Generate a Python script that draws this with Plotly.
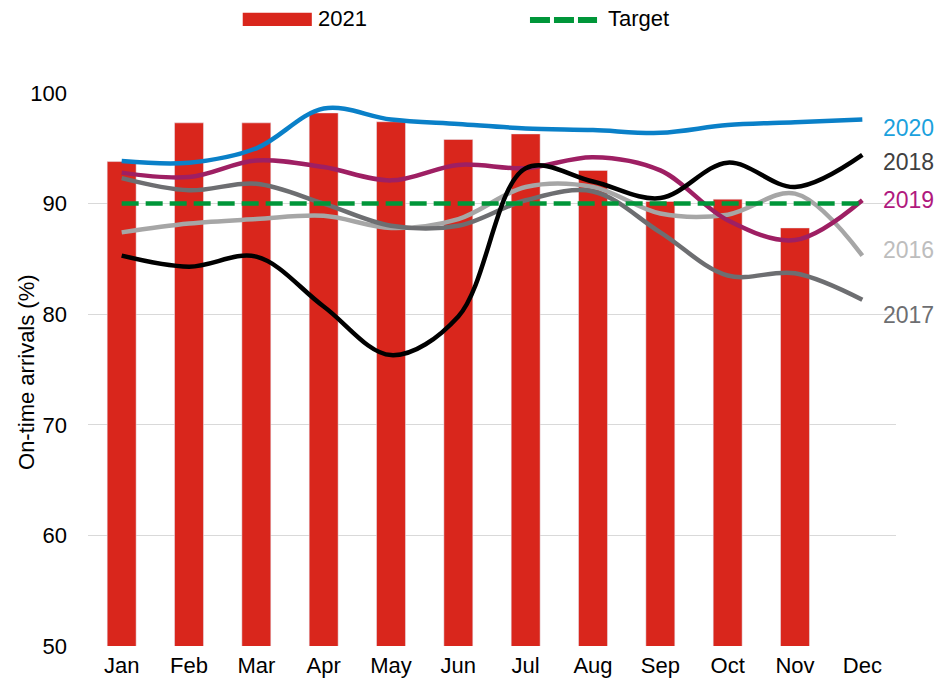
import plotly.graph_objects as go

months = ["Jan", "Feb", "Mar", "Apr", "May", "Jun", "Jul", "Aug", "Sep", "Oct", "Nov", "Dec"]
y2021 = [93.8, 97.3, 97.3, 98.2, 97.4, 95.8, 96.3, 93.0, 90.2, 90.4, 87.8, None]
y2020 = [93.85, 93.7, 95.0, 98.6, 97.6, 97.2, 96.8, 96.65, 96.4, 97.1, 97.35, 97.6]
y2019 = [92.8, 92.4, 93.9, 93.3, 92.1, 93.5, 93.2, 94.2, 93.0, 88.5, 86.7, 90.3]
y2018 = [85.3, 84.3, 85.2, 80.7, 76.3, 79.8, 93.2, 92.0, 90.5, 93.7, 91.5, 94.4]
y2017 = [92.3, 91.2, 91.8, 90.0, 88.0, 88.0, 90.3, 91.1, 87.4, 83.5, 83.7, 81.3]
y2016 = [87.4, 88.2, 88.6, 88.9, 87.8, 88.6, 91.5, 91.5, 89.1, 89.0, 90.9, 85.3]
target = [90] * 12

label_years = ["2020", "2018", "2019", "2016", "2017"]
label_y = [96.8, 93.75, 90.3, 85.8, 79.9]
label_colors = ["#1BA1DD", "#404040", "#B0197E", "#BDBDBD", "#6D6E71"]

FONT = "Liberation Sans, Arial, sans-serif"

fig = go.Figure()
fig.add_trace(go.Bar(x=months, y=y2021, marker_color="#D9261C", width=0.43,
                     showlegend=False, name="2021"))

lines = [
    (y2016, "#A6A6A6", "2016"),
    (y2017, "#6D6E71", "2017"),
    (y2019, "#9E1F63", "2019"),
    (y2020, "#0A80C8", "2020"),
    (y2018, "#000000", "2018"),
]
for ys, col, nm in lines:
    fig.add_trace(go.Scatter(x=months, y=ys, mode="lines", name=nm,
                             line=dict(color=col, width=4.5, shape="spline", smoothing=1.0),
                             showlegend=False))

fig.add_trace(go.Scatter(x=months, y=target, mode="lines", name="Target",
                         line=dict(color="#009639", width=4.5, dash="17px,7px"),
                         showlegend=False))

for yr, yy, c in zip(label_years, label_y, label_colors):
    fig.add_annotation(x="Dec", y=yy, xref="x", yref="y", text=yr, showarrow=False,
                       xanchor="left", yanchor="middle", xshift=19,
                       font=dict(family=FONT, size=23, color=c))

# y-axis title
fig.add_annotation(xref="paper", yref="paper", x=-0.0755, y=0.4955,
                   text="On-time arrivals (%)", textangle=-90, showarrow=False,
                   xanchor="center", yanchor="middle",
                   font=dict(family=FONT, size=22, color="#000000"))

# manual legend
fig.add_shape(type="rect", xref="paper", yref="paper", x0=0.1915, x1=0.277,
              y0=1.1212, y1=1.1452, fillcolor="#D9261C", line=dict(width=0))
fig.add_annotation(xref="paper", yref="paper", x=0.2822, y=1.1347, text="2021",
                   showarrow=False, xanchor="left", yanchor="middle",
                   font=dict(family=FONT, size=22, color="#000000"))
fig.add_shape(type="line", xref="paper", yref="paper", x0=0.547, x1=0.630,
              y0=1.132, y1=1.132, line=dict(color="#009639", width=6, dash="20px,4px"))
fig.add_annotation(xref="paper", yref="paper", x=0.6411, y=1.1347, text="Target",
                   showarrow=False, xanchor="left", yanchor="middle",
                   font=dict(family=FONT, size=22, color="#000000"))

fig.update_layout(
    width=944, height=681,
    margin=dict(l=80, r=56, t=85, b=43, autoexpand=False),
    paper_bgcolor="white", plot_bgcolor="white",
    font=dict(family=FONT, size=22, color="#000000"),
    showlegend=False,
)
fig.update_xaxes(showgrid=False, showline=False, ticks="", tickfont=dict(size=22),
                 range=[-0.5, 11.5], ticklabelstandoff=4)
fig.update_yaxes(range=[50, 100], dtick=10, showgrid=True, gridcolor="#D9D9D9",
                 gridwidth=1, zeroline=False, showline=False, ticks="",
                 tickfont=dict(size=22), ticklabelstandoff=20)

fig.write_html("out.html")
